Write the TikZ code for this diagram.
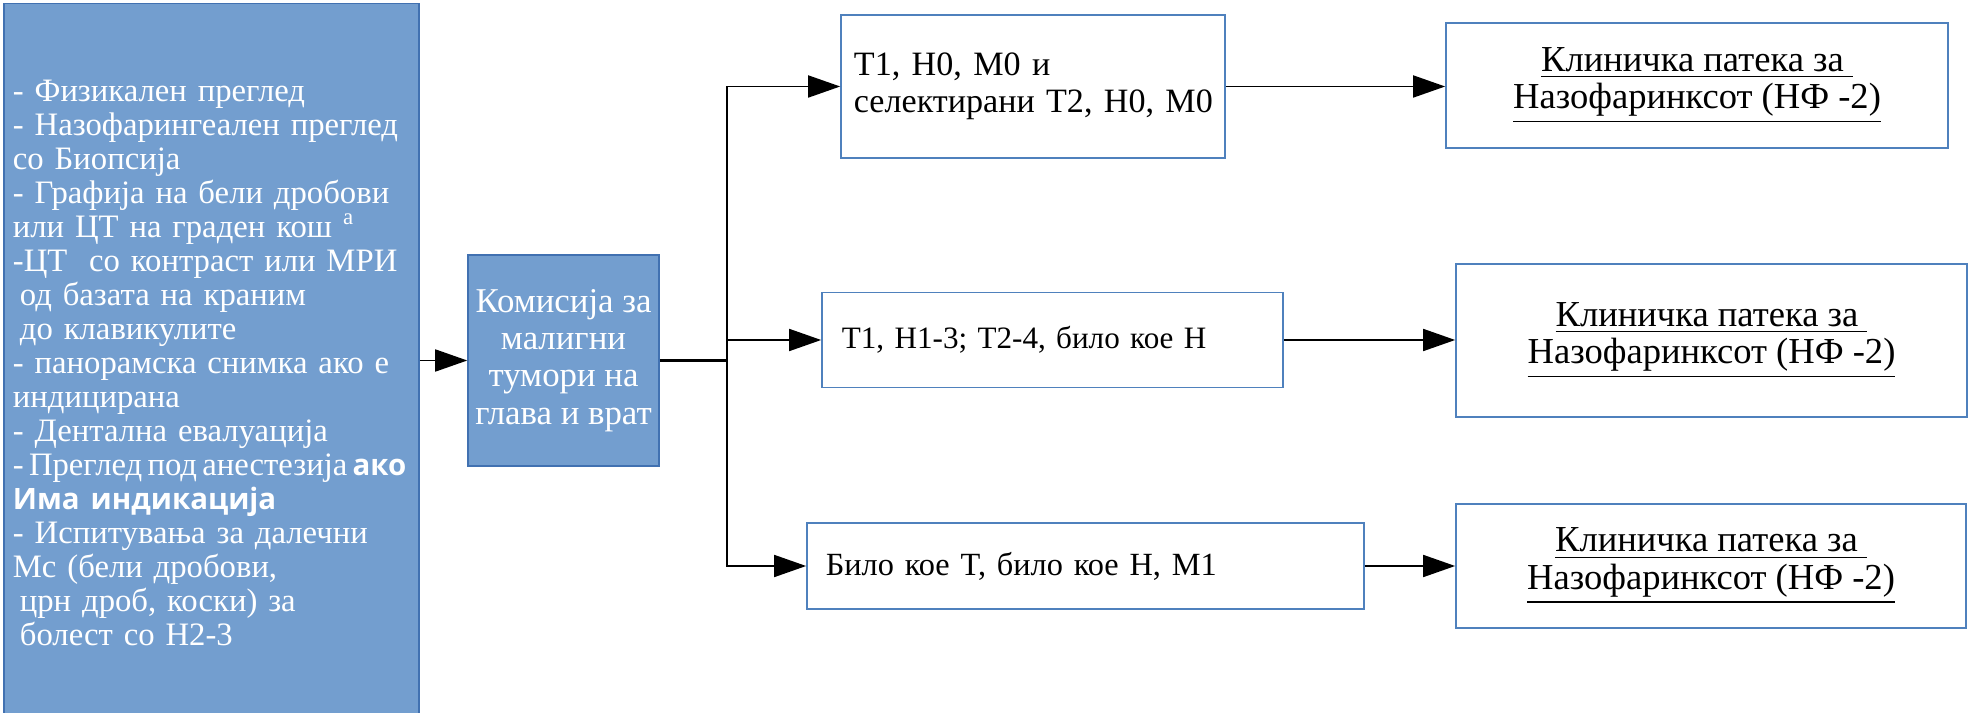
\documentclass[tikz,border=0pt]{standalone}
\usepackage{fontspec}
\setmainfont{Liberation Serif}
\newfontfamily\sansbold{Open Sans}[Scale=0.9]
\usetikzlibrary{arrows.meta}
\definecolor{boxfill}{RGB}{115,158,207}
\definecolor{boxline}{RGB}{65,113,177}
\definecolor{frameline}{RGB}{79,129,189}

\begin{document}
\begin{tikzpicture}[x=0.01cm, y=-0.01cm,
    bluebox/.style={draw=boxline, fill=boxfill, text=white, line width=0.4pt},
    stagebox/.style={draw=frameline, fill=white, line width=0.4pt, align=left},
    pathbox/.style={draw=frameline, fill=white, line width=0.4pt, align=center,
                    font=\fontsize{10.4}{10.6}\selectfont},
    arr/.style={-{Triangle[length=0.32cm,width=0.22cm]}, line width=0.5pt}]
  \useasboundingbox (0,0) rectangle (1977,713);

  % first examinations
  \node[bluebox, minimum width=4.15cm, minimum height=7.18cm, text width=3.97cm,
        inner xsep=0.09cm, align=left, font=\fontsize{9.3}{9.67}\selectfont]
        (exam) at (211.5,363) {- Физикален преглед\\
        - Назофарингеален преглед\\
        со Биопсија\\
        - Графија на бели дробови\\
        или ЦТ на граден кош \textsuperscript{a}\\
        -ЦТ\ \ со контраст или МРИ\\
        \hspace*{0.07cm}од базата на краним\\
        \hspace*{0.07cm}до клавикулите\\
        - панорамска снимка ако е\\
        индицирана\\
        - Дентална евалуација\\
        \mbox{\spaceskip=0.16em - Преглед под анестезија {\sansbold\bfseries ако}}\\
        {\sansbold\bfseries Има индикација}\\
        - Испитувања за далечни\\
        Мс (бели дробови,\\
        \hspace*{0.07cm}црн дроб, коски) за\\
        \hspace*{0.07cm}болест со H2-3};
  \node[bluebox, minimum width=1.91cm, minimum height=2.11cm, inner xsep=0pt,
        align=center, font=\fontsize{9.9}{10.6}\selectfont]
        (comm) at (563.5,360.5) {Комисија за\\ малигни\\ тумори на\\ глава и врат};

  % stages
  \node[stagebox, minimum height=1.43cm, text width=3.58cm, inner xsep=0.13cm,
        font=\fontsize{9.7}{10.5}\selectfont]
        (st1) at (1033,86.5) {T1, H0, M0 и\\ \mbox{селектирани T2, H0, M0}};
  \node[stagebox, minimum height=0.95cm, text width=4.21cm, inner xsep=0.2cm,
        font=\fontsize{8.85}{10.5}\selectfont]
        (st2) at (1052.5,340) {T1, H1-3; T2-4, било кое H};
  \node[stagebox, minimum height=0.86cm, text width=5.19cm, inner xsep=0.19cm,
        font=\fontsize{9.2}{10.5}\selectfont]
        (st3) at (1085.5,566) {Било кое T, било кое H, M1};

  % clinical pathways
  \node[pathbox, minimum width=5.02cm, minimum height=1.25cm]
        (path1) at (1697,85.5) {\underline{Клиничка патека за\ }\\ \underline{Назофаринксот (НФ -2)}};
  \node[pathbox, minimum width=5.11cm, minimum height=1.53cm]
        (path2) at (1711.5,340.5) {\underline{Клиничка патека за\ }\\ \underline{Назофаринксот (НФ -2)}};
  \node[pathbox, minimum width=5.10cm, minimum height=1.24cm]
        (path3) at (1711,566) {\underline{Клиничка патека за\ }\\ \underline{Назофаринксот (НФ -2)}};

  % connectors
  \coordinate (split) at (727,360.5);
  \draw[arr] (comm.west -| exam.east) -- (comm.west);
  \draw[line width=0.7pt] (comm.east) -- (split);
  \draw[arr] (split) |- (st1.west);
  \draw[arr] (split) |- (st2.west);
  \draw[arr] (split) |- (st3.west);
  \draw[arr] (st1.east) -- (st1.east -| path1.west);
  \draw[arr] (st2.east) -- (st2.east -| path2.west);
  \draw[arr] (st3.east) -- (st3.east -| path3.west);
\end{tikzpicture}
\end{document}
